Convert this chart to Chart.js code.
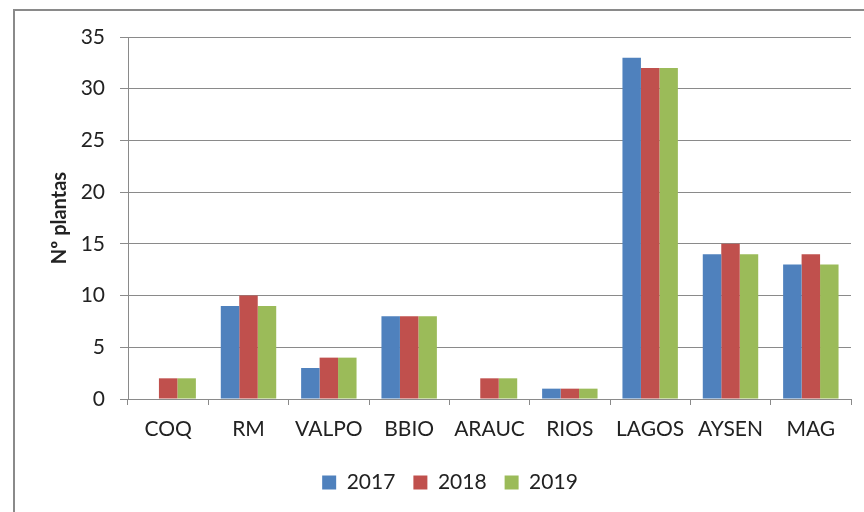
<!DOCTYPE html>
<html lang="es">
<head>
    <meta charset="UTF-8">
    <title>Nº plantas por región</title>
    <style>
        html, body {
            margin: 0;
            padding: 0;
            width: 864px;
            height: 512px;
            overflow: hidden;
            background: white;
        }
        #frame {
            position: absolute;
            left: 13px;
            top: 9px;
            width: 900px;
            height: 600px;
            border: 2px solid #8a8a8a;
        }
        #wrap {
            position: absolute;
            left: 0;
            top: 0;
            width: 864px;
            height: 512px;
        }
    </style>
    <script src="https://cdn.jsdelivr.net/npm/chart.js"></script>
</head>
<body>
    <div id="frame"></div>
    <div id="wrap"><canvas id="chart"></canvas></div>
    <script>
        var regions = ['COQ', 'RM', 'VALPO', 'BBIO', 'ARAUC', 'RIOS', 'LAGOS', 'AYSEN', 'MAG'];
        var years = ['2017', '2018', '2019'];
        var plants2017 = [0, 9, 3, 8, 0, 1, 33, 14, 13];
        var plants2018 = [2, 10, 4, 8, 2, 1, 32, 15, 14];
        var plants2019 = [2, 9, 4, 8, 2, 1, 32, 14, 13];
        var yTicks = [0, 5, 10, 15, 20, 25, 30, 35];

        var colors = ['#4F81BD', '#C0504D', '#9BBB59'];
        var gridColor = '#8a8a8a';
        var textColor = '#222222';

        Chart.defaults.font.family = 'Lato, "Open Sans", sans-serif';
        Chart.defaults.color = textColor;

        var series = [plants2017, plants2018, plants2019];
        var datasets = series.map(function (values, i) {
            return {
                label: years[i],
                data: values,
                backgroundColor: colors[i],
                borderWidth: 0,
                categoryPercentage: 0.69,
                barPercentage: 1.0
            };
        });

        var chart = new Chart(document.getElementById('chart'), {
            type: 'bar',
            data: { labels: regions, datasets: datasets },
            options: {
                responsive: true,
                maintainAspectRatio: false,
                animation: false,
                layout: { padding: { left: 49, right: 13, top: 37, bottom: 9 } },
                plugins: {
                    tooltip: { enabled: false },
                    legend: {
                        position: 'bottom',
                        labels: {
                            boxWidth: 14,
                            boxHeight: 14,
                            padding: 18,
                            font: { size: 21 },
                            color: textColor
                        }
                    }
                },
                scales: {
                    x: {
                        grid: {
                            drawOnChartArea: false,
                            drawTicks: true,
                            tickLength: 6,
                            color: gridColor
                        },
                        border: { color: gridColor },
                        ticks: { font: { size: 21 }, padding: 12, maxRotation: 0 },
                        afterFit: function (scale) { scale.height = 55; }
                    },
                    y: {
                        min: 0,
                        max: 35,
                        afterBuildTicks: function (scale) {
                            scale.ticks = yTicks.map(function (v) { return { value: v }; });
                        },
                        grid: { color: gridColor, tickLength: 8 },
                        border: { color: gridColor },
                        ticks: { font: { size: 21 }, padding: 15 },
                        title: {
                            display: true,
                            text: 'Nº plantas',
                            font: { size: 20, weight: 'bold', lineHeight: 1.0 },
                            padding: { top: 1, bottom: 0 },
                            color: textColor
                        },
                        afterFit: function (scale) { scale.width = 79; }
                    }
                }
            }
        });
    </script>
</body>
</html>
